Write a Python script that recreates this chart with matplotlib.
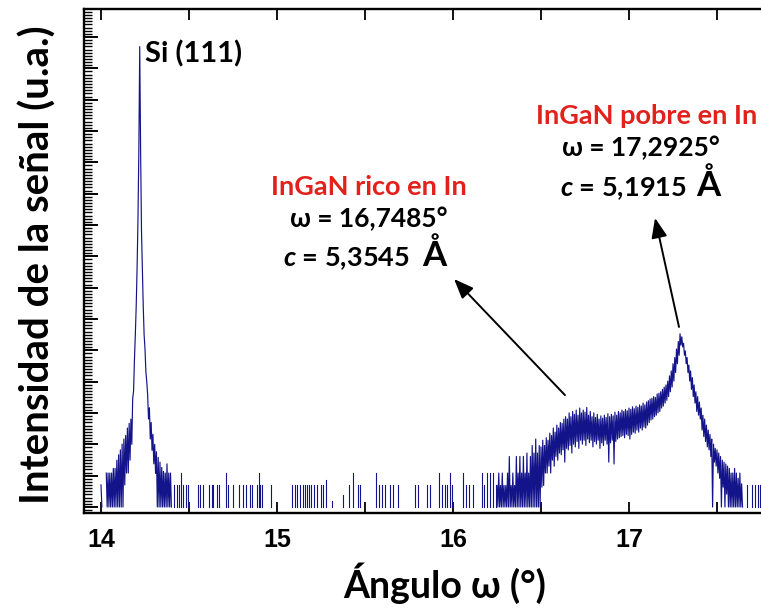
import numpy as np
import matplotlib
matplotlib.use("Agg")
import matplotlib.pyplot as plt
from matplotlib.ticker import FixedLocator, MultipleLocator, NullFormatter

plt.rcParams['mathtext.fontset'] = 'custom'
plt.rcParams['mathtext.it'] = 'Lato:bold:italic'
plt.rcParams['mathtext.rm'] = 'Lato:bold'
plt.rcParams['mathtext.bf'] = 'Lato:bold'

TXT = ['Lato', 'DejaVu Sans']

# ---------------- data (intensity, arbitrary units) ----------------
# Si (111) region: readings every 0.005 deg starting at 14.000 (0 = no counts)
si_start = 14.000
si_step = 0.005
si_counts = [
    1.63, 1.0, 0, 0, 0, 0, 2.12, 1.0, 2.12, 1.0,
    2.12, 1.0, 2.12, 1.0, 2.35, 1.0, 2.35, 1.0, 2.82, 1.0,
    3.18, 1.0, 3.54, 1.0, 4.02, 1.0, 4.50, 1.63, 4.87, 2.12,
    5.74, 2.12, 6.37, 2.82, 7.0, 4.0, 11.0, 13.0, 26.0, 45.0,
    85.0, 196.0, 576.0, 2690.0, 26500.0, 2690.0, 455.0, 196.0, 85.0, 45.0,
    33.0, 20.0, 16.0, 12.0, 7.0, 9.0, 4.5, 6.5, 3.5, 5.0,
    2.6, 4.0, 2.1, 3.4, 1.0, 3.0, 1.0, 2.7, 1.0, 2.4,
    1.0, 2.2, 1.0, 2.12, 1.0, 2.6, 1.0, 2.12, 1.0, 2.12,
    1.0,
]

# InGaN region: upper / lower noise envelope every 0.01 deg starting at 16.25
ingan_start = 16.25
ingan_step = 0.01
ingan_hi = [
    1.61, 2.12, 1.61, 2.12, 1.61, 1.61, 2.12, 3.06, 1.61, 2.12,
    1.61, 3.06, 2.12, 3.06, 2.12, 3.06, 2.12, 3.30, 2.12, 3.06,
    3.90, 3.30, 4.50, 3.30, 3.90, 3.78, 4.38, 3.90, 4.63, 4.38,
    5.12, 4.87, 5.74, 5.24, 6.12, 5.74, 6.49, 6.37, 7.00, 7.38,
    7.00, 8.02, 7.38, 8.28, 7.76, 8.54, 7.63, 8.93, 8.02, 8.54,
    8.15, 9.06, 7.63, 8.28, 7.38, 8.02, 7.25, 7.76, 7.00, 7.51,
    7.13, 7.63, 7.25, 7.89, 7.38, 7.76, 7.51, 8.15, 7.63, 8.28,
    8.02, 8.54, 8.28, 8.67, 8.41, 8.93, 8.67, 9.19, 8.80, 9.32,
    9.06, 9.58, 9.32, 9.97, 9.58, 10.2, 10.5, 10.9, 11.1, 11.5,
    11.3, 12.2, 12.4, 12.8, 13.5, 14.2, 14.9, 16.2, 18.2, 20.3,
    23.8, 27.3, 33.0, 38.9, 46.2, 43.2, 37.4, 31.6, 27.3, 23.1,
    20.3, 17.5, 14.9, 12.8, 11.5, 10.2, 8.93, 7.63, 7.00, 6.12,
    5.49, 4.99, 4.50, 4.02, 3.66, 3.54, 3.30, 3.06, 2.82, 2.70,
    2.59, 2.47, 2.35, 2.12, 2.12, 2.35, 2.12, 1.89, 2.12, 1.67,
]
ingan_lo = [
    1.0, 1.0, 1.0, 1.0, 1.0, 1.0, 1.0, 1.0, 1.0, 1.0,
    1.0, 1.0, 1.0, 1.0, 1.0, 1.0, 1.0, 1.0, 1.0, 1.0,
    1.0, 1.0, 1.0, 1.0, 1.0, 1.55, 1.61, 2.12, 2.12, 2.47,
    2.12, 2.82, 2.47, 3.06, 2.82, 3.30, 3.18, 3.54, 2.70, 3.66,
    3.54, 3.90, 3.30, 4.02, 3.78, 4.26, 3.66, 4.38, 4.02, 4.38,
    3.90, 4.50, 4.14, 4.38, 3.78, 4.26, 4.02, 4.38, 3.66, 4.14,
    3.90, 4.38, 4.02, 2.70, 4.14, 4.38, 2.59, 4.26, 4.50, 4.63,
    4.75, 4.87, 4.63, 4.99, 4.87, 4.50, 4.99, 5.24, 5.12, 5.49,
    5.24, 5.74, 5.49, 5.87, 5.74, 6.12, 6.49, 6.87, 7.00, 7.38,
    7.63, 8.02, 8.28, 8.93, 9.32, 9.97, 10.6, 11.5, 12.8, 14.2,
    16.2, 19.6, 23.8, 28.7, 35.9, 34.5, 28.7, 23.8, 19.6, 16.2,
    13.5, 11.5, 9.97, 8.28, 7.63, 7.00, 5.49, 4.75, 4.26, 3.78,
    3.54, 3.06, 1.0, 2.70, 2.47, 2.12, 1.89, 1.0, 1.55, 1.0,
    1.33, 1.0, 1.0, 1.0, 1.0, 1.0, 1.0, 1.0, 1.0, 1.0,
]

# isolated background spikes (angle, height); each rises from the 1-count level
spike_angle = [
    14.415, 14.430, 14.443, 14.453, 14.466, 14.483, 14.494, 14.551, 14.563, 14.578,
    14.614, 14.629, 14.636, 14.657, 14.670, 14.709, 14.722, 14.750, 14.784, 14.805,
    14.824, 14.847, 14.856, 14.885, 14.898, 14.903, 14.913, 14.964, 15.084, 15.102,
    15.115, 15.131, 15.146, 15.159, 15.169, 15.183, 15.193, 15.210, 15.229, 15.248,
    15.263, 15.278, 15.311, 15.377, 15.411, 15.431, 15.462, 15.472, 15.563, 15.581,
    15.595, 15.614, 15.642, 15.661, 15.689, 15.784, 15.801, 15.852, 15.869, 15.922,
    15.936, 15.955, 15.964, 15.983, 15.993, 16.057, 16.074, 16.093, 16.112, 16.163,
    16.176, 16.191, 16.210, 16.229, 16.243, 17.670, 17.699, 17.716, 17.733, 17.745,
]
spike_height = [
    1.61, 1.61, 1.61, 2.12, 1.61, 1.61, 1.61, 1.61, 1.61, 1.61,
    1.61, 1.61, 1.61, 1.61, 1.61, 2.12, 1.61, 1.61, 1.61, 1.61,
    1.61, 1.61, 1.61, 1.61, 2.12, 1.61, 1.61, 1.61, 1.61, 1.61,
    1.61, 1.61, 1.61, 1.61, 1.61, 1.61, 1.61, 1.61, 1.61, 1.61,
    1.61, 1.80, 1.15, 1.30, 1.61, 2.12, 1.61, 1.61, 2.12, 1.61,
    1.61, 1.61, 1.61, 1.61, 1.61, 1.61, 1.61, 1.61, 1.61, 2.12,
    1.61, 1.61, 1.61, 2.12, 1.61, 2.12, 1.61, 1.61, 1.61, 2.12,
    1.61, 2.12, 2.12, 2.12, 1.61, 1.61, 1.61, 1.61, 1.61, 1.61,
]

x_ticks = [14, 15, 16, 17]

# ---------------- build plotting arrays ----------------
si_y = np.array(si_counts, dtype=float)
si_y[si_y <= 0] = np.nan
si_x = si_start + si_step * np.arange(len(si_y))

hi = np.array(ingan_hi, dtype=float)
lo = np.array(ingan_lo, dtype=float)
gx = ingan_start + ingan_step * np.arange(len(hi))
ing_x = np.empty(2 * len(hi))
ing_y = np.empty(2 * len(hi))
ing_x[0::2] = gx
ing_x[1::2] = gx + ingan_step / 2
ing_y[0::2] = hi
ing_y[1::2] = lo

sp_x = []
sp_y = []
for a, h in zip(spike_angle, spike_height):
    sp_x += [a, a, np.nan]
    sp_y += [1.0, h, np.nan]

# ---------------- figure ----------------
W, H = 761, 612
fig = plt.figure(figsize=(W / 100, H / 100), dpi=100)
ax = fig.add_axes([84 / W, 99 / H, 677 / W, 504 / H])

LINE = '#14148a'
ax.plot(si_x, si_y, color=LINE, lw=0.85)
ax.plot(ing_x, ing_y, color=LINE, lw=0.85)
ax.plot(sp_x, sp_y, color=LINE, lw=0.8)

ax.set_yscale('log', base=2)
ax.set_xlim(13.9034, 17.75)
ax.set_ylim(0.876, 60900)

ax.yaxis.set_major_locator(FixedLocator(2.0 ** np.arange(0, 16)))
ax.yaxis.set_minor_locator(FixedLocator(2.0 ** (np.arange(-1, 160) / 10)))
ax.yaxis.set_major_formatter(NullFormatter())
ax.yaxis.set_minor_formatter(NullFormatter())

ax.xaxis.set_major_locator(FixedLocator(x_ticks))
ax.xaxis.set_minor_locator(MultipleLocator(0.5))
ax.set_xticklabels([str(t) for t in x_ticks], fontsize=18, fontweight='bold',
                   family='Liberation Sans')

ax.tick_params(axis='x', which='both', direction='in', top=True, bottom=True,
               length=8, width=1.3, pad=11)
ax.tick_params(axis='y', which='major', direction='in', left=True, right=False,
               length=10, width=1.4)
ax.tick_params(axis='y', which='minor', direction='in', left=True, right=False,
               length=6, width=1.0)

for s in ['left', 'bottom', 'top']:
    ax.spines[s].set_linewidth(1.7)
ax.spines['right'].set_visible(False)

# axis labels
fig.text(38 / W, 1 - 265 / H, 'Intensidad de la señal (u.a.)', rotation=90,
         ha='center', va='center', fontsize=29, fontweight='bold', family=TXT)
fig.text(445 / W, 1 - 583 / H, 'Ángulo ω (°)', ha='center', va='center',
         fontsize=27, fontweight='bold', family=TXT)

# annotations
RED = '#e2211c'
ax.text(0.0901, 0.9107, 'Si (111)', transform=ax.transAxes, ha='left', va='center',
        fontsize=21, fontweight='bold', family=TXT)

ax.text(0.421, 0.6468, 'InGaN rico en In', transform=ax.transAxes, ha='center',
        va='center', fontsize=19.5, fontweight='bold', color=RED, family=TXT)
ax.text(0.421, 0.5833, 'ω = 16,7485°', transform=ax.transAxes, ha='center',
        va='center', fontsize=19, fontweight='bold', family=TXT)
ax.text(0.294, 0.490, '$c$ = 5,3545', transform=ax.transAxes, ha='left',
        va='baseline', fontsize=19.5, fontweight='bold', family=TXT)
ax.text(0.536, 0.490, 'Å', transform=ax.transAxes, ha='right',
        va='baseline', fontsize=25, fontweight='bold', family=TXT)

ax.text(0.8316, 0.7877, 'InGaN pobre en In', transform=ax.transAxes, ha='center',
        va='center', fontsize=19.5, fontweight='bold', color=RED, family=TXT)
ax.text(0.8227, 0.7242, 'ω = 17,2925°', transform=ax.transAxes, ha='center',
        va='center', fontsize=19, fontweight='bold', family=TXT)
ax.text(0.703, 0.629, '$c$ = 5,1915', transform=ax.transAxes, ha='left',
        va='baseline', fontsize=19.5, fontweight='bold', family=TXT)
ax.text(0.9395, 0.629, 'Å', transform=ax.transAxes, ha='right',
        va='baseline', fontsize=25, fontweight='bold', family=TXT)

arrow = dict(arrowstyle='-|>,head_length=0.8,head_width=0.32', color='black',
             lw=1.4, mutation_scale=15, shrinkA=0, shrinkB=0)
ax.annotate('', xy=(16.006, 155), xytext=(16.636, 11.9), arrowprops=arrow)
ax.annotate('', xy=(17.148, 598), xytext=(17.284, 53.7), arrowprops=arrow)

fig.savefig('out.png', dpi=100)
